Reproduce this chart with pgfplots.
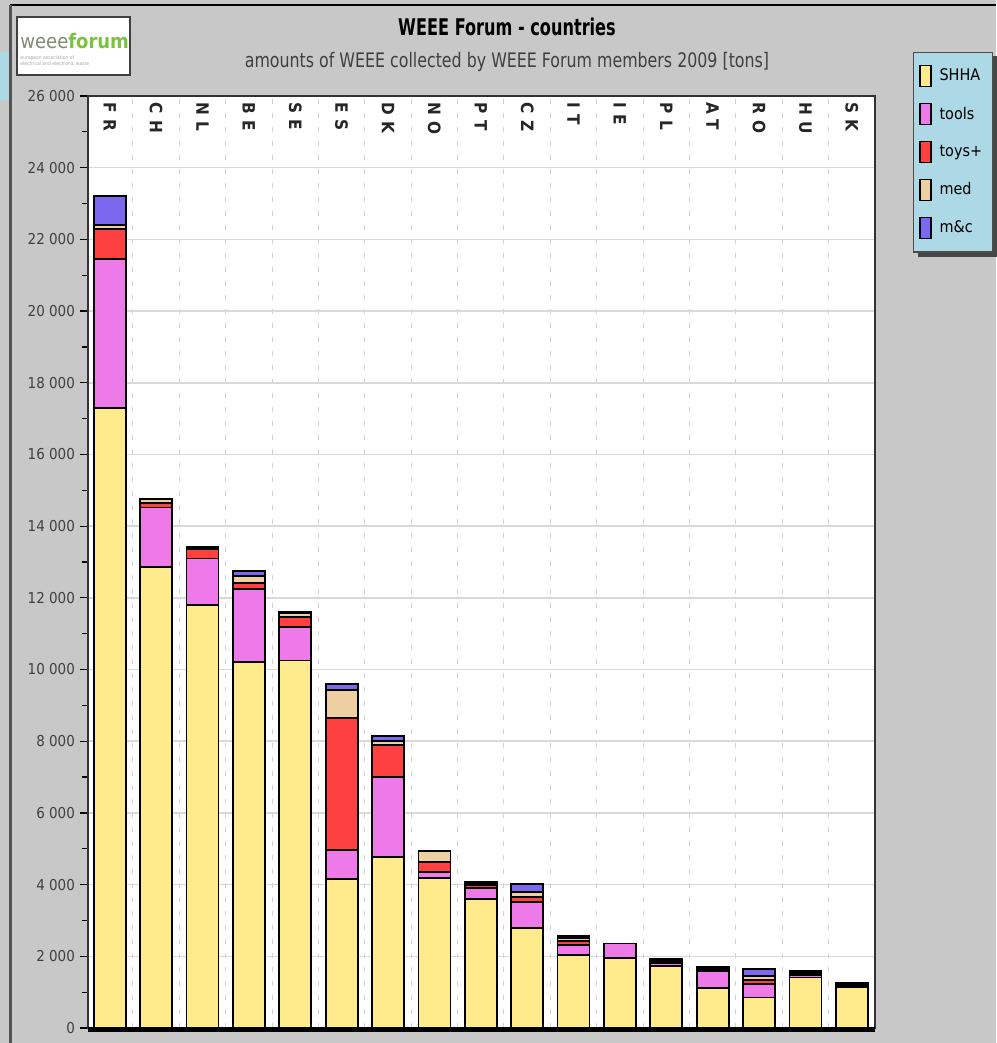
\documentclass[border=0pt]{standalone}
\usepackage{fontspec}
\setmainfont{DejaVu Sans Condensed}
\usepackage{pgfplots}
\pgfplotsset{compat=1.18}
\usepackage{pgfplotstable}

\definecolor{bg}{HTML}{C8C8C8}
\definecolor{shha}{HTML}{FFEB8C}
\definecolor{toolsc}{HTML}{EE7AE9}
\definecolor{toysc}{HTML}{FF4040}
\definecolor{medc}{HTML}{EECFA1}
\definecolor{mcc}{HTML}{7B68EE}
\definecolor{legbg}{HTML}{ADD8E6}
\definecolor{logogreen}{HTML}{7CC242}

\pgfplotstableread{
idx cat SHHA tools toys med mc
0  FR 17300 4150 850  100 820
1  CH 12850 1670 130  100 20
2  NL 11800 1300 250  50  30
3  BE 10200 2040 170  190 140
4  SE 10250 930  280  110 40
5  ES 4150  810  3680 780 170
6  DK 4780  2220 890  110 140
7  NO 4190  160  280  300 10
8  PT 3600  300  80   50  40
9  CZ 2800  710  140  140 220
10 IT 2040  280  110  80  60
11 IE 1960  400  0    0   0
12 PL 1740  60   50   40  30
13 AT 1110  490  50   30  30
14 RO 850   380  110  100 200
15 HU 1410  60   50   40  30
16 SK 1150  40   30   30  20
}\datatable

\begin{document}
\begin{tikzpicture}
\begin{scope}[x=0.5pt,y=0.5pt]
\fill[bg] (0,0) rectangle (996,1043);
\draw[black, line width=1.2pt] (10,1038) -- (996,1038);
\fill[gray!65!black] (9,0) rectangle (12,1038);
\fill[legbg] (0,943) rectangle (9,991);
\draw[fill=white, draw=gray!50!black, line width=0.6pt] (17,968) rectangle (130,1026);
\node[anchor=west, inner sep=0pt] at (20,1002) {\fontsize{10}{10}\selectfont\color{gray!80!logogreen}weee\textcolor{logogreen}{\bfseries forum}};
\node[anchor=west, inner sep=0pt, text=gray!70] at (20,985) {\fontsize{2.5}{3}\selectfont european association of};
\node[anchor=west, inner sep=0pt, text=gray!70] at (20,979) {\fontsize{2.5}{3}\selectfont electrical and electronic waste};
\node at (507,1016) {\fontsize{11.5}{12}\selectfont\bfseries\addfontfeature{FakeStretch=0.78}WEEE Forum - countries};
\node[text=black!75] at (507,981) {\fontsize{10}{12}\selectfont\addfontfeature{FakeStretch=0.88}amounts of WEEE collected by WEEE Forum members 2009 [tons]};
% legend shadow
\fill[gray!55!black] (918,786) rectangle (1002,987);
\end{scope}
\begin{axis}[
  at={(44pt,7.5pt)}, anchor=south west,
  scale only axis, width=393.5pt, height=466pt,
  clip=false,
  ybar stacked, bar width=0.69,
  xmin=-0.47, xmax=16.5, ymin=0, ymax=26000,
  axis background/.style={fill=white},
  axis line style={black!80, line width=0.6pt},
  xtick={0,...,16},
  xticklabels={FR,CH,NL,BE,SE,ES,DK,NO,PT,CZ,IT,IE,PL,AT,RO,HU,SK},
  xticklabel pos=upper,
  xticklabel shift=-3.5pt,
  xticklabel style={rotate=-90, anchor=west, font=\fontsize{8.5}{8}\selectfont\bfseries\addfontfeature{LetterSpace=40}, text=black!85},
  x tick style={draw=none},
  minor xtick={-0.5,0.5,...,16.5},
  minor x tick style={draw=none},
  xminorgrids,
  minor x grid style={gray!35, dash pattern=on 2.5pt off 4.5pt, line width=0.5pt},
  ytick={0,2000,...,26000},
  minor ytick={1000,3000,...,25000},
  ytick pos=left,
  ymajorgrids,
  major y grid style={gray!30, line width=0.8pt},
  y tick style={black, line width=0.6pt},
  tick align=outside,
  major tick length=4pt, minor tick length=3pt,
  yticklabel style={font=\fontsize{7.5}{8}\selectfont, text=black!75, xshift=1pt,
    /pgf/number format/.cd, 1000 sep={\ }, assume math mode=true},
  scaled y ticks=false,
  legend style={at={(1.048,1.047)}, anchor=north west, fill=legbg,
    draw=black!70, line width=0.6pt,
    font=\fontsize{8}{9}\selectfont, row sep=7.5pt, column sep=2pt,
    inner xsep=3pt, inner ysep=6pt,
    legend cell align=left},
  legend image code/.code={\draw[#1, draw=black, line width=0.6pt] (0pt,-5pt) rectangle (5.5pt,5.5pt);},
  every axis plot/.append style={draw=black, line width=0.9pt},
]
\addplot[fill=shha] table[x=idx,y=SHHA] {\datatable};
\addplot[fill=toolsc] table[x=idx,y=tools] {\datatable};
\addplot[fill=toysc] table[x=idx,y=toys] {\datatable};
\addplot[fill=medc] table[x=idx,y=med] {\datatable};
\addplot[fill=mcc] table[x=idx,y=mc] {\datatable};
\legend{SHHA,tools,toys+,med,m\&c}
\draw[black, line width=2.4pt] ([yshift=-0.9pt]rel axis cs:0,0) -- ([yshift=-0.9pt]rel axis cs:1,0);
\end{axis}
\pgfresetboundingbox
\path[use as bounding box] (0,0) rectangle (498pt,521.5pt);
\end{tikzpicture}
\end{document}
